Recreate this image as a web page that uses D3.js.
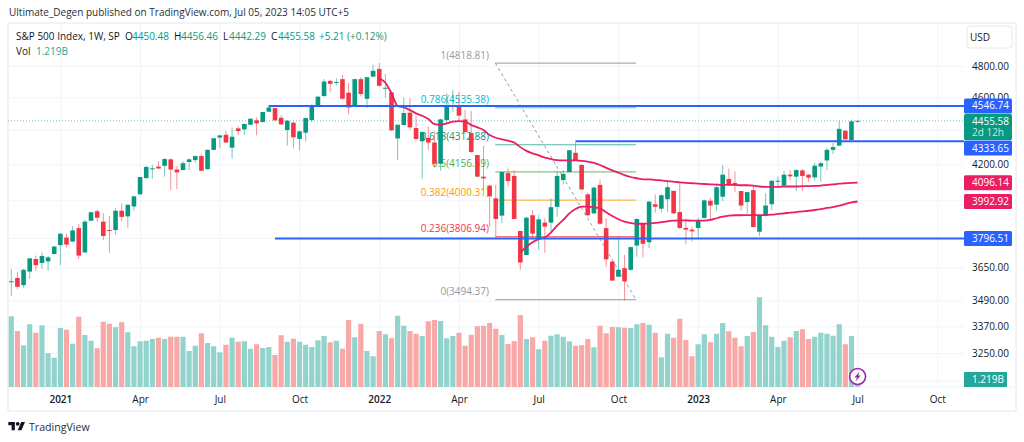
<!DOCTYPE html>
<html><head><meta charset="utf-8">
<script src="https://cdn.jsdelivr.net/npm/d3@7/dist/d3.min.js"></script>
<style>
html,body{margin:0;padding:0;background:#fff;overflow:hidden}
svg{display:block}
text{font-family:"Open Sans",sans-serif}
</style></head><body>
<svg id="c" width="1024" height="442"></svg>
<script>
const opens=[3580,3599,3564,3630,3693,3673,3681,3718,3763,3802,3781,3851,3726,3890,3940,3885,3841,3841,3943,3913,3966,4032,4122,4175,4187,4191,4228,4170,4167,4213,4224,4247,4172,4283,4355,4372,4296,4410,4404,4432,4458,4448,4511,4533,4474,4400,4444,4347,4384,4460,4550,4608,4704,4691,4715,4629,4552,4715,4591,4731,4781,4654,4631,4350,4430,4505,4412,4333,4353,4326,4203,4460,4542,4546,4464,4382,4253,4130,4080,4010,3917,4150,4134,3836,3713,3919,3793,3880,3880,3964,4111,4156,4266,4196,4032,3929,4084,3851,3680,3605,3647,3639,3761,3877,3778,3978,3954,4005,4051,3936,3852,3843,3852,3905,3997,3976,4019,4117,4095,4050,3990,4055,3832,3915,3978,4104,4080,4141,4130,4165,4141,4126,4187,4222,4283,4308,4396,4341,4450.48];
const closes=[3583,3556,3639,3696,3662,3708,3701,3756,3822,3766,3839,3710,3885,3935,3906,3810,3837,3943,3910,3975,4021,4128,4185,4177,4176,4230,4170,4154,4206,4228,4247,4163,4283,4351,4368,4326,4360,4394,4436,4468,4440,4509,4537,4458,4434,4456,4357,4392,4472,4552,4604,4700,4685,4697,4591,4537,4715,4621,4727,4769,4673,4660,4398,4432,4503,4416,4347,4388,4326,4203,4464,4546,4546,4487,4388,4271,4130,4120,4021,3899,4156,4105,3899,3675,3906,3822,3897,3859,3962,4134,4145,4281,4224,4059,3919,4069,3874,3691,3586,3639,3582,3753,3899,3770,3992,3964,4027,4071,3929,3852,3843,3834,3892,3999,3971,4071,4141,4087,4082,3971,4044,3857,3917,3971,4107,4107,4141,4132,4167,4134,4124,4192,4206,4283,4299,4407,4345,4452,4455.58];
const highs=[3642,3627,3644,3696,3710,3726,3708,3758,3824,3822,3861,3872,3894,3936,3951,3930,3915,3957,3983,3976,4023,4128,4191,4197,4219,4236,4234,4191,4217,4234,4251,4259,4285,4353,4372,4394,4414,4424,4440,4470,4476,4511,4552,4537,4490,4460,4450,4396,4476,4556,4608,4715,4710,4720,4742,4691,4717,4729,4731,4809,4818.81,4748,4635,4432,4597,4594,4487,4392,4422,4392,4468,4625,4646,4635,4521,4515,4253,4306,4084,4084,4158,4177,4167,3836,3911,3947,3919,3903,4010,4163,4167,4283,4328,4200,4040,4075,4115,3903,3680,3804,3713,3756,3903,3879,3997,4032,4034,4105,4051,4093,3903,3859,3906,4003,4012,4093,4196,4175,4160,4050,4046,4082,3919,4037,4109,4132,4163,4167,4172,4172,4145,4209,4215,4296,4322,4456,4398,4460,4456.46];
const lows=[3512,3544,3552,3594,3633,3644,3635,3716,3662,3751,3780,3693,3724,3887,3885,3788,3724,3817,3887,3854,3943,4030,4115,4118,4174,4130,4055,4061,4167,4167,4209,4161,4170,4281,4293,4322,4232,4369,4372,4430,4369,4446,4509,4456,4430,4308,4291,4279,4331,4450,4542,4604,4633,4676,4587,4496,4550,4606,4535,4727,4667,4597,4394,4224,4428,4400,4335,4118,4283,4181,4163,4444,4511,4456,4376,4266,4126,4055,3859,3807,3877,4075,3897,3639,3711,3790,3738,3724,3832,3911,4087,4154,4220,4055,3915,3926,3868,3655,3585,3604,3491,3635,3704,3701,3747,3933,3935,3936,3926,3846,3768,3781,3797,3901,3897,3945,3996,4078,4044,3943,3929,3851,3811,3911,3948,4075,4077,4113,4050,4050,4102,4107,4102,4167,4259,4306,4343,4337,4442.29];
const volumes=[28.3,22.4,16.7,25.1,21.7,24.7,13.5,11.7,23.6,22.9,17.3,28.1,20.8,18.5,15.5,26.1,25.3,23.9,25.9,21.9,16.3,18.3,18.5,19.2,19.7,19.2,20.1,20.1,20.1,14.4,16.5,21.5,17.6,16.3,13.9,16.9,19.7,18.1,18.3,15.3,17.1,15.6,16,12.8,20.7,18.1,19.3,18.1,16.9,16,18.7,20.4,17.9,18.5,15.3,26.8,19.9,25.3,14.4,12.3,22.4,21.1,19.5,28.5,24.5,22.4,21.3,20.4,26.3,26.8,26.4,19.5,20.4,21.7,16.5,20.9,24.3,24.5,25.6,23.3,20.8,17.2,18.4,28.8,19.2,19.9,15.1,18.5,20.5,21.1,20.1,18.3,16.5,16.7,19.2,15.9,24.5,21.5,24,23.9,23.7,23.6,25.1,25.6,24.9,21.7,11.9,21.3,19.7,27.3,18.8,12.3,17.1,21.1,17.9,21.3,25.6,22.3,19.7,16.3,20.4,22,35.9,24.7,20.1,16,18.5,19.9,22.4,23.1,19.2,20.1,21.7,21.3,20.5,25.1,17.1,20.4,1.219];
const ma1Start=60;
const ma1=[4721,4692,4625,4546,4537,4521,4501,4486,4466,4436,4432,4440,4450,4454,4450,4430,4416,4400,4370,4354,4345,4337,4326,4299,4277,4263,4251,4238,4230,4224,4222,4222,4222,4220,4215,4208,4196,4180,4165,4152,4139,4128,4121,4115,4115,4111,4109,4105,4102,4098,4095,4093,4091,4089,4087,4085,4084,4084,4084,4082,4082,4080,4075,4073,4073,4073,4075,4075,4075,4077,4077,4078,4080,4084,4087,4091,4093,4095,4096.14];
const ma2Start=83;
const ma2=[3725,3755,3778,3794,3802,3828,3864,3894,3929,3952,3965,3965,3962,3956,3935,3915,3898,3885,3877,3873,3875,3875,3878,3882,3887,3890,3892,3892,3890,3890,3890,3894,3903,3911,3917,3919,3919,3920,3920,3920,3920,3922,3926,3929,3933,3936,3940,3943,3947,3952,3958,3963,3970,3979,3988,3992.92];
const timeTickWeeks=[8,21,34,47,60,73,86,99,112,125,138,151];
const timeTickLabels=["2021","Apr","Jul","Oct","2022","Apr","Jul","Oct","2023","Apr","Jul","Oct"];
const priceTicks=[4800,4600,4400,4200,4000,3800,3650,3490,3370,3250,3130];
const priceTickLabels=["4800.00","4600.00","","4200.00","","","3650.00","3490.00","3370.00","3250.00",""];
const fibLevels=["1","0.786","0.618","0.5","0.382","0.236","0"];
const fibPrices=[4818.81,4535.38,4312.88,4156.59,4000.31,3806.94,3494.37];
const fibColors=["#9598a1","#00bcd4","#089981","#4caf50","#ff9800","#f23645","#9598a1"];
const hLinePrices=[4546.74,4333.65,3796.51];
const hLineStartWeeks=[42,92,43];
const lastClose=4455.58;

const L=8,T=23,R=1016,B=411,AX=964,VB=387;
const svg=d3.select("#c");
const x=d3.scaleLinear().domain([0,138]).range([11.3,857.6]);
const y=d3.scaleLog().domain([4800,3250]).range([66,353]);
const v=d3.scaleLinear().domain([0,40]).range([VB,VB-100]);
const GREEN="#089981",RED="#f23645",BLUE="#2962ff",PINK="#e91e63";

svg.append("rect").attr("x",L).attr("y",T).attr("width",R-L).attr("height",B-T).attr("fill","#fff").attr("stroke","#e6e8ee");
// grid
const gridY=svg.append("g").attr("transform",`translate(${AX},0)`)
  .call(d3.axisLeft(y).tickValues(priceTicks).tickSize(AX-L).tickFormat(""));
gridY.select(".domain").remove();
gridY.selectAll("line").attr("stroke","#f2f4f8");
const gridX=svg.append("g").attr("transform",`translate(0,${VB})`)
  .call(d3.axisTop(x).tickValues(timeTickWeeks).tickSize(VB-T).tickFormat(""));
gridX.select(".domain").remove();
gridX.selectAll("line").attr("stroke","#f2f4f8");
svg.append("line").attr("x1",L).attr("x2",R).attr("y1",VB).attr("y2",VB).attr("stroke","#f2f4f8");

// last price line
svg.append("line").attr("x1",L).attr("x2",AX).attr("y1",y(lastClose)).attr("y2",y(lastClose))
  .attr("stroke",GREEN).attr("stroke-opacity",.55).attr("stroke-dasharray","1 2");

// fib
const fx1=495.3,fx2=636;
svg.append("line").attr("x1",fx1).attr("x2",fx2).attr("y1",y(fibPrices[0])).attr("y2",y(fibPrices[6]))
  .attr("stroke","#9598a1").attr("stroke-dasharray","3 3").attr("stroke-width",1);
fibPrices.forEach((p,i)=>{
  svg.append("line").attr("x1",fx1).attr("x2",fx2).attr("y1",y(p)).attr("y2",y(p))
    .attr("stroke",fibColors[i]).attr("stroke-width",1.2).attr("stroke-opacity",i==0||i==6?.8:.7);
  svg.append("text").attr("x",489).attr("y",y(p)-4.5).attr("text-anchor","end")
    .attr("font-size",10).attr("fill",fibColors[i]).text(`${fibLevels[i]}(${p.toFixed(2)})`);
});

// volume
svg.append("g").selectAll("rect").data(volumes).join("rect")
  .attr("x",(d,i)=>x(i)-2.6).attr("width",5.2)
  .attr("y",d=>v(d)).attr("height",d=>VB-v(d))
  .attr("fill",(d,i)=>closes[i]>=opens[i]?"#93d3cd":"#f8a9a7");

// candles
const idx=d3.range(opens.length);
const cg=svg.append("g");
cg.selectAll("line").data(idx).join("line")
  .attr("x1",i=>x(i)).attr("x2",i=>x(i)).attr("y1",i=>y(highs[i])).attr("y2",i=>y(lows[i]))
  .attr("stroke",i=>closes[i]>=opens[i]?GREEN:RED).attr("stroke-opacity",.55).attr("stroke-width",1);
cg.selectAll("rect").data(idx).join("rect")
  .attr("x",i=>x(i)-2.3).attr("width",4.6)
  .attr("y",i=>y(Math.max(opens[i],closes[i])))
  .attr("height",i=>Math.max(1,Math.abs(y(opens[i])-y(closes[i]))))
  .attr("fill",i=>closes[i]>=opens[i]?GREEN:RED);

// moving averages
[[ma1,ma1Start],[ma2,ma2Start]].forEach(([s,st])=>{
  svg.append("path").datum(s)
    .attr("d",d3.line().x((d,i)=>x(i+st)).y(d=>y(d)).curve(d3.curveMonotoneX))
    .attr("fill","none").attr("stroke",PINK).attr("stroke-width",1.8);
});

// horizontal lines
hLinePrices.forEach((p,i)=>{
  svg.append("line").attr("x1",x(hLineStartWeeks[i])).attr("x2",AX).attr("y1",y(p)).attr("y2",y(p))
    .attr("stroke",BLUE).attr("stroke-width",2);
});

// price axis
const ay=svg.append("g").attr("transform",`translate(${AX},0)`)
  .call(d3.axisRight(y).tickValues(priceTicks).tickSize(0).tickPadding(8).tickFormat((d,i)=>priceTickLabels[i]));
ay.select(".domain").remove();
ay.selectAll("text").attr("font-size",10).attr("font-family",'"Open Sans",sans-serif').attr("fill","#131722");

// time axis
const ax=svg.append("g").attr("transform",`translate(0,${VB})`)
  .call(d3.axisBottom(x).tickValues(timeTickWeeks).tickSize(0).tickPadding(9).tickFormat((d,i)=>timeTickLabels[i]));
ax.select(".domain").remove();
ax.selectAll("text").attr("font-size",10).attr("font-family",'"Open Sans",sans-serif').attr("fill","#131722")
  .attr("font-weight",(d,i)=>/^20/.test(timeTickLabels[i])?600:400);

// price labels
function tag(cy,txt,col){
  svg.append("rect").attr("x",AX).attr("y",cy-7.5).attr("width",48).attr("height",15).attr("rx",1.5).attr("fill",col);
  svg.append("text").attr("x",972).attr("y",cy+3.5).attr("font-size",10).attr("fill","#fff").text(txt);
}
tag(y(4546.74),"4546.74",BLUE);
svg.append("rect").attr("x",AX).attr("y",114).attr("width",48).attr("height",26).attr("rx",1.5).attr("fill",GREEN);
svg.append("text").attr("x",972).attr("y",124.5).attr("font-size",10).attr("fill","#fff").text(lastClose.toFixed(2));
svg.append("text").attr("x",972).attr("y",136).attr("font-size",10).attr("fill","#fff").attr("fill-opacity",.8).text("2d 12h");
tag(148,"4333.65",BLUE);
tag(y(ma1[ma1.length-1]),ma1[ma1.length-1].toFixed(2),PINK);
tag(y(ma2[ma2.length-1]),ma2[ma2.length-1].toFixed(2),PINK);
tag(y(3796.51),"3796.51",BLUE);
svg.append("rect").attr("x",AX).attr("y",372).attr("width",43).attr("height",15).attr("fill","#26a69a");
svg.append("text").attr("x",972).attr("y",383).attr("font-size",10).attr("fill","#fff").text("1.219B");
svg.append("rect").attr("x",967).attr("y",26).attr("width",45).attr("height",22).attr("rx",3).attr("fill","#fff").attr("stroke","#e6e8ee");
svg.append("text").attr("x",970).attr("y",40.5).attr("font-size",10).attr("fill","#131722").text("USD");

// lightning badge
const bolt=svg.append("g").attr("transform",`translate(${x(138)},376.5)`);
bolt.append("circle").attr("r",8).attr("fill","#fff").attr("stroke","#9c27b0").attr("stroke-width",1.6);
bolt.append("path").attr("d","M2 -5 L-3.2 1 L-0.6 1 L-2 5 L3.2 -1 L0.6 -1 Z").attr("fill","#9c27b0");

// header and legend
const dark="#131722",tv="#089981";
svg.append("text").attr("x",9).attr("y",16).attr("font-size",10).attr("fill","#2a2e39")
  .text("Ultimate_Degen published on TradingView.com, Jul 05, 2023 14:05 UTC+5");
const leg=(tx,ty,col,s)=>svg.append("text").attr("x",tx).attr("y",ty).attr("font-size",10).attr("fill",col).text(s);
leg(16,40,dark,"S&P 500 Index, 1W, SP");
leg(125,40,dark,"O"); leg(132,40,tv,"4450.48");
leg(174,40,dark,"H"); leg(181,40,tv,"4456.46");
leg(223,40,dark,"L"); leg(229,40,tv,"4442.29");
leg(271,40,dark,"C"); leg(278,40,tv,"4455.58");
leg(319,40,tv,"+5.21 (+0.12%)");
leg(16,55,dark,"Vol"); leg(36,55,"#26a69a","1.219B");

// logo
const logo=svg.append("g").attr("transform","translate(8.3,420) scale(0.47)");
logo.append("path").attr("d","M14 22H7V11H0V4h14v18zM28 22h-8l7.5-18h8L28 22z").attr("fill","#131722");
logo.append("circle").attr("cx",20).attr("cy",8).attr("r",4).attr("fill","#131722");
svg.append("text").attr("x",29).attr("y",431).attr("font-size",10.6).attr("fill","#2a2e39").text("TradingView");
</script></body></html>
